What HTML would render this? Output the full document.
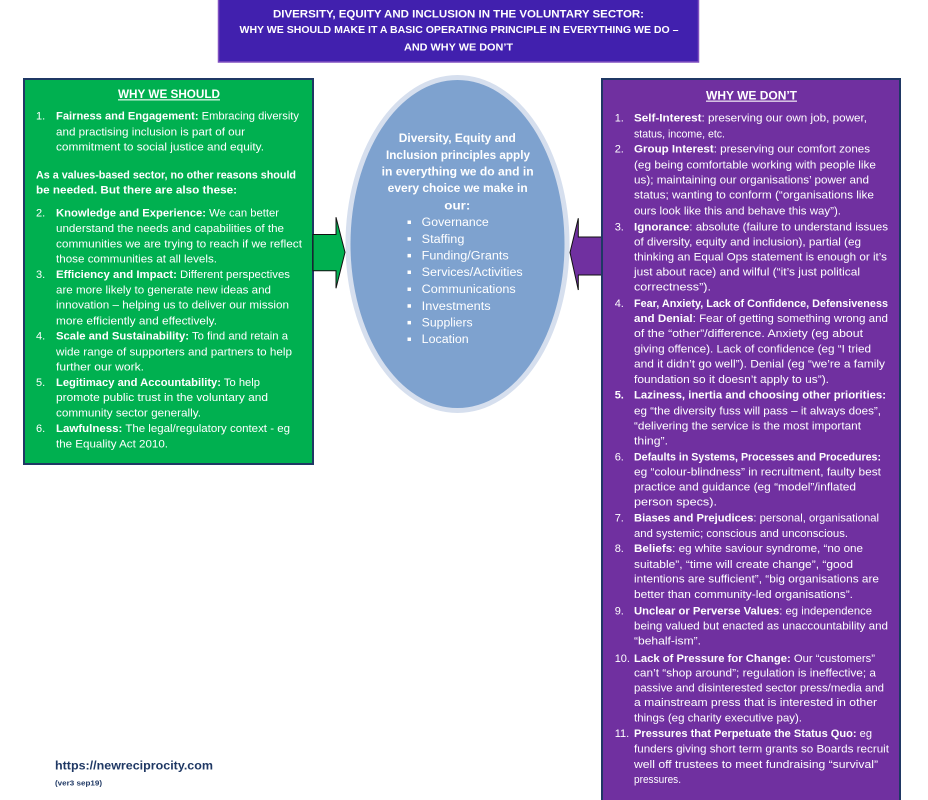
<!DOCTYPE html>
<html><head><meta charset="utf-8"><style>
html,body{margin:0;padding:0;background:#fff;}
svg{display:block;}
text{font-family:"Liberation Sans",Arial,sans-serif;}
.w{fill:#fff;font-size:11px;}
.b{font-weight:bold;}
</style></head><body>
<svg width="928" height="800" viewBox="0 0 928 800" xmlns="http://www.w3.org/2000/svg">
<!-- Title -->
<rect x="218.5" y="-3" width="480" height="65" fill="#4120ae" stroke="#8050c0" stroke-width="1.5"/>
<g fill="#fff" font-weight="bold" text-anchor="start">
<text x="273" y="17.5" font-size="11" textLength="371" lengthAdjust="spacingAndGlyphs">DIVERSITY, EQUITY AND INCLUSION IN THE VOLUNTARY SECTOR:</text>
<text x="239.5" y="33" font-size="10" textLength="439" lengthAdjust="spacingAndGlyphs">WHY WE SHOULD MAKE IT A BASIC OPERATING PRINCIPLE IN EVERYTHING WE DO –</text>
<text x="404" y="50.4" font-size="10" textLength="109" lengthAdjust="spacingAndGlyphs">AND WHY WE DON’T</text>
</g>

<!-- Left green box -->
<rect x="24" y="79" width="289" height="385" fill="#00b050" stroke="#1f3864" stroke-width="2"/>
<text x="118" y="98" font-size="12" class="b" fill="#fff" textLength="102" lengthAdjust="spacingAndGlyphs">WHY WE SHOULD</text>
<rect x="118" y="99.3" width="102" height="1.1" fill="#fff"/>
<g class="w">
<text x="36" y="119.7">1.</text>
<text x="56" y="119.7" textLength="243" lengthAdjust="spacingAndGlyphs"><tspan class="b">Fairness and Engagement:</tspan>  Embracing diversity</text>
<text x="56" y="135.4" textLength="189" lengthAdjust="spacingAndGlyphs">and practising inclusion is part of our</text>
<text x="56" y="150.4" textLength="208" lengthAdjust="spacingAndGlyphs">commitment to social justice and equity.</text>
<text x="36" y="178.7" class="b" textLength="260" lengthAdjust="spacingAndGlyphs">As a values-based sector, no other reasons should</text>
<text x="36" y="193.7" class="b" textLength="201" lengthAdjust="spacingAndGlyphs">be needed.  But there are also these:</text>
<text x="36" y="216.4">2.</text>
<text x="56" y="216.4" textLength="223" lengthAdjust="spacingAndGlyphs"><tspan class="b">Knowledge and Experience:</tspan>  We can better</text>
<text x="56" y="232" textLength="228" lengthAdjust="spacingAndGlyphs">understand the needs and capabilities of the</text>
<text x="56" y="247.7" textLength="246" lengthAdjust="spacingAndGlyphs">communities we are trying to reach if we reflect</text>
<text x="56" y="262.7" textLength="161" lengthAdjust="spacingAndGlyphs">those communities at all levels.</text>
<text x="36" y="278">3.</text>
<text x="56" y="278" textLength="234" lengthAdjust="spacingAndGlyphs"><tspan class="b">Efficiency and Impact:</tspan>  Different perspectives</text>
<text x="56" y="293.7" textLength="215" lengthAdjust="spacingAndGlyphs">are more likely to generate new ideas and</text>
<text x="56" y="308.7" textLength="233" lengthAdjust="spacingAndGlyphs">innovation – helping us to deliver our mission</text>
<text x="56" y="324.4" textLength="161" lengthAdjust="spacingAndGlyphs">more efficiently and effectively.</text>
<text x="36" y="339.7">4.</text>
<text x="56" y="339.7" textLength="232" lengthAdjust="spacingAndGlyphs"><tspan class="b">Scale and Sustainability:</tspan>  To find and retain a</text>
<text x="56" y="355.4" textLength="236" lengthAdjust="spacingAndGlyphs">wide range of supporters and partners to help</text>
<text x="56" y="370.4" textLength="88" lengthAdjust="spacingAndGlyphs">further our work.</text>
<text x="36" y="386">5.</text>
<text x="56" y="386" textLength="204" lengthAdjust="spacingAndGlyphs"><tspan class="b">Legitimacy and Accountability:</tspan>  To help</text>
<text x="56" y="401" textLength="212" lengthAdjust="spacingAndGlyphs">promote public trust in the voluntary and</text>
<text x="56" y="416.4" textLength="145" lengthAdjust="spacingAndGlyphs">community sector generally.</text>
<text x="36" y="432">6.</text>
<text x="56" y="432" textLength="234" lengthAdjust="spacingAndGlyphs"><tspan class="b">Lawfulness:</tspan>  The legal/regulatory context - eg</text>
<text x="56" y="447.7" textLength="112" lengthAdjust="spacingAndGlyphs">the Equality Act 2010.</text>
</g>

<!-- Ellipse -->
<ellipse cx="457.5" cy="244" rx="112" ry="169" fill="#d6dfee"/>
<ellipse cx="457.5" cy="244" rx="107" ry="164" fill="#7ea2cf"/>

<!-- Green arrow -->
<path d="M313,234.5 L336,234.5 L336,217.3 L345,252.3 L336,288.3 L336,270.7 L313,270.7 Z" fill="#00b050" stroke="#111" stroke-width="1"/>
<!-- Purple arrow -->
<path d="M603,237 L578.3,237 L578.3,218.3 L570,252.5 L578.3,290 L578.3,275 L603,275 Z" fill="#7030a0" stroke="#111" stroke-width="1"/>

<g fill="#fff" font-size="11.5">
<text x="398.8" y="142" class="b" textLength="117" lengthAdjust="spacingAndGlyphs">Diversity, Equity and</text>
<text x="386" y="158.8" class="b" textLength="144" lengthAdjust="spacingAndGlyphs">Inclusion principles apply</text>
<text x="381.7" y="175.5" class="b" textLength="152" lengthAdjust="spacingAndGlyphs">in everything we do and in</text>
<text x="387.7" y="192" class="b" textLength="140" lengthAdjust="spacingAndGlyphs">every choice we make in</text>
<text x="444.3" y="209.5" class="b" textLength="26" lengthAdjust="spacingAndGlyphs">our:</text>
<text x="421.7" y="226" textLength="67" lengthAdjust="spacingAndGlyphs">Governance</text>
<text x="421.7" y="242.8" textLength="42.7" lengthAdjust="spacingAndGlyphs">Staffing</text>
<text x="421.7" y="259.5" textLength="87" lengthAdjust="spacingAndGlyphs">Funding/Grants</text>
<text x="421.7" y="276" textLength="101" lengthAdjust="spacingAndGlyphs">Services/Activities</text>
<text x="421.7" y="293" textLength="94" lengthAdjust="spacingAndGlyphs">Communications</text>
<text x="421.7" y="309.8" textLength="69" lengthAdjust="spacingAndGlyphs">Investments</text>
<text x="421.7" y="326.5" textLength="51" lengthAdjust="spacingAndGlyphs">Suppliers</text>
<text x="421.7" y="343" textLength="47" lengthAdjust="spacingAndGlyphs">Location</text>
<rect x="407.5" y="220.5" width="3.5" height="3.5"/>
<rect x="407.5" y="237.2" width="3.5" height="3.5"/>
<rect x="407.5" y="253.9" width="3.5" height="3.5"/>
<rect x="407.5" y="270.5" width="3.5" height="3.5"/>
<rect x="407.5" y="287.5" width="3.5" height="3.5"/>
<rect x="407.5" y="304.2" width="3.5" height="3.5"/>
<rect x="407.5" y="320.9" width="3.5" height="3.5"/>
<rect x="407.5" y="337.5" width="3.5" height="3.5"/>
</g>

<!-- Right purple box -->
<rect x="602" y="79" width="298" height="730" fill="#7030a0" stroke="#1f3864" stroke-width="2"/>
<text x="706" y="99.3" font-size="12" class="b" fill="#fff" textLength="91" lengthAdjust="spacingAndGlyphs">WHY WE DON’T</text>
<rect x="706" y="100.6" width="91" height="1.1" fill="#fff"/>
<g class="w">
<text x="614.7" y="121.4">1.</text>
<text x="634" y="121.4" textLength="233" lengthAdjust="spacingAndGlyphs"><tspan class="b">Self-Interest</tspan>:  preserving our own job, power,</text>
<text x="634" y="137.4" textLength="91" lengthAdjust="spacingAndGlyphs">status, income, etc.</text>
<text x="614.7" y="152.7">2.</text>
<text x="634" y="152.7" textLength="236" lengthAdjust="spacingAndGlyphs"><tspan class="b">Group Interest</tspan>:  preserving our comfort zones</text>
<text x="634" y="168.7" textLength="242" lengthAdjust="spacingAndGlyphs">(eg being comfortable working with people like</text>
<text x="634" y="183.7" textLength="235" lengthAdjust="spacingAndGlyphs">us); maintaining our organisations’ power and</text>
<text x="634" y="198.7" textLength="240" lengthAdjust="spacingAndGlyphs">status; wanting to conform (“organisations like</text>
<text x="634" y="214.7" textLength="207" lengthAdjust="spacingAndGlyphs">ours look like this and behave this way”).</text>
<text x="614.7" y="230.4">3.</text>
<text x="634" y="230.4" textLength="254" lengthAdjust="spacingAndGlyphs"><tspan class="b">Ignorance</tspan>:  absolute (failure to understand issues</text>
<text x="634" y="245.4" textLength="227" lengthAdjust="spacingAndGlyphs">of diversity, equity and inclusion), partial (eg</text>
<text x="634" y="260.4" textLength="253" lengthAdjust="spacingAndGlyphs">thinking an Equal Ops statement is enough or it’s</text>
<text x="634" y="275.4" textLength="226" lengthAdjust="spacingAndGlyphs">just about race) and wilful (“it’s just political</text>
<text x="634" y="290.4" textLength="77" lengthAdjust="spacingAndGlyphs">correctness”).</text>
<text x="614.7" y="307">4.</text>
<text x="634" y="307" class="b" textLength="254" lengthAdjust="spacingAndGlyphs">Fear, Anxiety, Lack of Confidence, Defensiveness</text>
<text x="634" y="322" textLength="254" lengthAdjust="spacingAndGlyphs"><tspan class="b">and Denial</tspan>:  Fear of getting something wrong and</text>
<text x="634" y="337" textLength="229" lengthAdjust="spacingAndGlyphs">of the “other”/difference.  Anxiety (eg about</text>
<text x="634" y="352.7" textLength="237" lengthAdjust="spacingAndGlyphs">giving offence).  Lack of confidence (eg “I tried</text>
<text x="634" y="367.7" textLength="251" lengthAdjust="spacingAndGlyphs">and it didn’t go well”).  Denial (eg “we’re a family</text>
<text x="634" y="383" textLength="195" lengthAdjust="spacingAndGlyphs">foundation so it doesn’t apply to us”).</text>
<text x="614.7" y="398.7" class="b">5.</text>
<text x="634" y="398.7" class="b" textLength="252" lengthAdjust="spacingAndGlyphs">Laziness, inertia and choosing other priorities:</text>
<text x="634" y="414.4" textLength="247" lengthAdjust="spacingAndGlyphs">eg “the diversity fuss will pass – it always does”,</text>
<text x="634" y="429.4" textLength="227" lengthAdjust="spacingAndGlyphs">“delivering the service is the most important</text>
<text x="634" y="444.4" textLength="34" lengthAdjust="spacingAndGlyphs">thing”.</text>
<text x="614.7" y="460.4">6.</text>
<text x="634" y="460.4" class="b" textLength="247" lengthAdjust="spacingAndGlyphs">Defaults in Systems, Processes and Procedures:</text>
<text x="634" y="475.4" textLength="247" lengthAdjust="spacingAndGlyphs">eg “colour-blindness” in recruitment, faulty best</text>
<text x="634" y="490.4" textLength="222" lengthAdjust="spacingAndGlyphs">practice and guidance (eg “model”/inflated</text>
<text x="634" y="505.4" textLength="83" lengthAdjust="spacingAndGlyphs">person specs).</text>
<text x="614.7" y="521.4">7.</text>
<text x="634" y="521.4" textLength="245" lengthAdjust="spacingAndGlyphs"><tspan class="b">Biases and Prejudices</tspan>:  personal, organisational</text>
<text x="634" y="537" textLength="214" lengthAdjust="spacingAndGlyphs">and systemic; conscious and unconscious.</text>
<text x="614.7" y="552">8.</text>
<text x="634" y="552" textLength="229" lengthAdjust="spacingAndGlyphs"><tspan class="b">Beliefs</tspan>:  eg white saviour syndrome, “no one</text>
<text x="634" y="568" textLength="219" lengthAdjust="spacingAndGlyphs">suitable”, “time will create change”, “good</text>
<text x="634" y="582.7" textLength="245" lengthAdjust="spacingAndGlyphs">intentions are sufficient”, “big organisations are</text>
<text x="634" y="598" textLength="219" lengthAdjust="spacingAndGlyphs">better than community-led organisations”.</text>
<text x="614.7" y="614.7">9.</text>
<text x="634" y="614.7" textLength="238" lengthAdjust="spacingAndGlyphs"><tspan class="b">Unclear or Perverse Values</tspan>:  eg independence</text>
<text x="634" y="629.7" textLength="254" lengthAdjust="spacingAndGlyphs">being valued but enacted as unaccountability and</text>
<text x="634" y="644.7" textLength="67" lengthAdjust="spacingAndGlyphs">“behalf-ism”.</text>
<text x="614.7" y="662">10.</text>
<text x="634" y="662" textLength="241" lengthAdjust="spacingAndGlyphs"><tspan class="b">Lack of Pressure for Change:</tspan>  Our “customers”</text>
<text x="634" y="676.4" textLength="242" lengthAdjust="spacingAndGlyphs">can’t “shop around”; regulation is ineffective; a</text>
<text x="634" y="691.4" textLength="250" lengthAdjust="spacingAndGlyphs">passive and disinterested sector press/media and</text>
<text x="634" y="706" textLength="243" lengthAdjust="spacingAndGlyphs">a mainstream press that is interested in other</text>
<text x="634" y="721.4" textLength="168" lengthAdjust="spacingAndGlyphs">things (eg charity executive pay).</text>
<text x="614.7" y="737">11.</text>
<text x="634" y="737" textLength="238" lengthAdjust="spacingAndGlyphs"><tspan class="b">Pressures that Perpetuate the Status Quo:</tspan>  eg</text>
<text x="634" y="752.7" textLength="255" lengthAdjust="spacingAndGlyphs">funders giving short term grants so Boards recruit</text>
<text x="634" y="768" textLength="244" lengthAdjust="spacingAndGlyphs">well off trustees to meet fundraising “survival”</text>
<text x="634" y="783" textLength="47" lengthAdjust="spacingAndGlyphs">pressures.</text>
</g>

<!-- Footer -->
<text x="55" y="769.5" font-size="12" class="b" fill="#1f3864" textLength="158" lengthAdjust="spacingAndGlyphs">https://newreciprocity.com</text>
<text x="55" y="785.5" font-size="7.5" class="b" fill="#1f3864" textLength="47" lengthAdjust="spacingAndGlyphs">(ver3 sep19)</text>
</svg>
</body></html>
